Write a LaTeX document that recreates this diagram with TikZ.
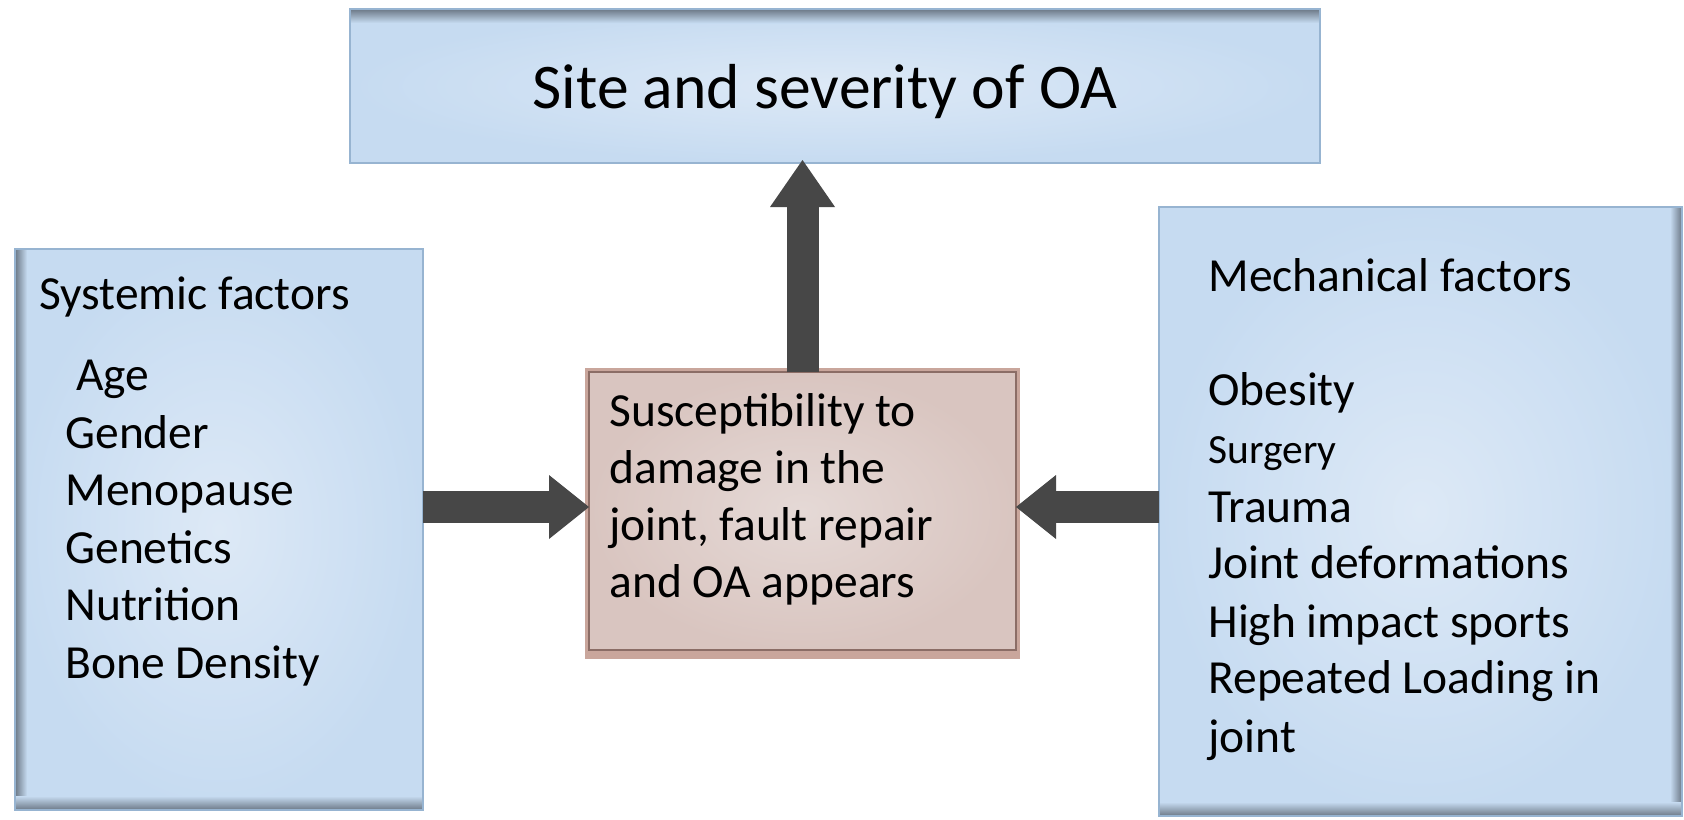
\documentclass[tikz,border=0pt]{standalone}
\usepackage{fontspec}
\setmainfont{Carlito}
\usetikzlibrary{arrows.meta}
\definecolor{bluein}{HTML}{DDE9F6}
\definecolor{blueout}{HTML}{C6DBF1}
\definecolor{blueline}{HTML}{97B4D1}
\definecolor{edgedark}{HTML}{6B7886}
\definecolor{pinkin}{HTML}{E5D9D6}
\definecolor{pinkout}{HTML}{D9C5C0}
\definecolor{pinkline}{HTML}{8B6D66}
\definecolor{pinkshadow}{HTML}{C9A69C}
\definecolor{arrowc}{HTML}{474747}
\tikzset{
  bluebox/.style={rectangle, inner sep=0pt, outer sep=0pt, shade, inner color=bluein, outer color=blueout},
  bline/.style={draw=blueline, line width=1pt},
  pinkbox/.style={rectangle, inner sep=0pt, outer sep=0pt, shade, inner color=pinkin, outer color=pinkout, draw=pinkline, line width=0.9pt},
  txt/.style={anchor=base west, inner sep=0pt, font=\fontsize{23.75pt}{28.75pt}\selectfont},
  smalltxt/.style={anchor=base west, inner sep=0pt, font=\fontsize{20.75pt}{25pt}\selectfont},
  ttl/.style={anchor=base, inner sep=0pt, font=\fontsize{31.8pt}{38pt}\selectfont},
  fatarrow/.style={draw=arrowc, line width=16pt, line cap=butt},
}
\begin{document}
\begin{tikzpicture}[x=0.5pt, y=-0.5pt]
\useasboundingbox (0,0) rectangle (1684,819);
\fill[white] (0,0) rectangle (1684,819);

% shadow of the centre box
\fill[pinkshadow] (585,368) rectangle (1020,659);

% boxes
\node[bluebox, minimum width=485pt, minimum height=77pt] (top) at (835,86) {};
\node[bluebox, minimum width=204pt, minimum height=280.5pt] (sys) at (219,529.5) {};
\node[bluebox, minimum width=261.5pt, minimum height=304.5pt] (mech) at (1420.5,511.5) {};
\node[pinkbox, minimum width=213.5pt, minimum height=139pt] (center) at (802.5,511) {};

% bevel edges
\shade[top color=edgedark, bottom color=blueout] (top.north west) rectangle ([yshift=-7pt]top.north east);
\shade[left color=edgedark, right color=blueout] (sys.north west) rectangle ([xshift=6pt]sys.south west);
\shade[bottom color=edgedark, top color=blueout] (sys.south west) rectangle ([yshift=7pt]sys.south east);
\shade[right color=edgedark, left color=blueout] ([xshift=-6pt]mech.north east) rectangle (mech.south east);
\shade[bottom color=edgedark, top color=blueout] (mech.south west) rectangle ([yshift=7pt]mech.south east);
\draw[bline] (top.north west) rectangle (top.south east);
\draw[bline] (sys.north west) rectangle (sys.south east);
\draw[bline] (mech.north west) rectangle (mech.south east);

% arrows
\coordinate (lvl) at (0,507);
\draw[fatarrow, -{Triangle[length=23.5pt, width=32.5pt, line width=0pt]}] (center.north) -- ([yshift=1.5pt]center.north |- top.south);
\draw[fatarrow, -{Triangle[length=20pt, width=32pt, line width=0pt]}] (sys.east |- lvl) -- (center.west |- lvl);
\draw[fatarrow, -{Triangle[length=20pt, width=32pt, line width=0pt]}] (mech.west |- lvl) -- (center.east |- lvl);

% title
\node[ttl] (title) at (825,108) {Site and severity of OA};

% systemic factors
\node[txt] (s0) at (39,309) {Systemic factors};
\node[txt] (s1) at (76,390) {Age};
\node[txt] (s2) at (65,448) {Gender};
\node[txt] (s3) at (65,505) {Menopause};
\node[txt] (s4) at (65,563) {Genetics};
\node[txt] (s5) at (65,620) {Nutrition};
\node[txt] (s6) at (65,678) {Bone Density};

% centre
\node[txt] (c1) at (609,426) {Susceptibility to};
\node[txt] (c2) at (609,483) {damage in the};
\node[txt] (c3) at (609,540) {joint, fault repair};
\node[txt] (c4) at (609,597) {and OA appears};

% mechanical factors
\node[txt] (m0) at (1208,291) {Mechanical factors};
\node[txt] (m1) at (1208,405) {Obesity};
\node[smalltxt] (m2) at (1208,463) {Surgery};
\node[txt] (m3) at (1208,522) {Trauma};
\node[txt] (m4) at (1208,578) {Joint deformations};
\node[txt] (m5) at (1208,637) {High impact sports};
\node[txt] (m6) at (1208,693) {Repeated Loading in};
\node[txt] (m7) at (1208,752) {joint};
\end{tikzpicture}
\end{document}
